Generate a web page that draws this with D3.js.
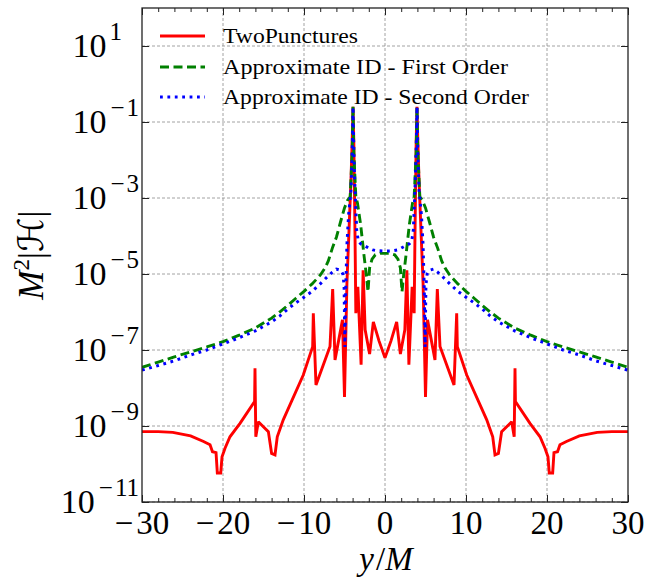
<!DOCTYPE html>
<html><head><meta charset="utf-8">
<script src="https://cdn.jsdelivr.net/npm/d3@7"></script>
<style>body{margin:0;background:#fff} svg{display:block}</style>
</head><body>
<svg id="c" width="647" height="579"></svg>
<script>
// ---------- data ----------
const xMajorTicks = [-30, -20, -10, 0, 10, 20, 30];
const xMinorTicks = [-28, -26, -24, -22, -18, -16, -14, -12, -8, -6, -4, -2, 2, 4, 6, 8, 12, 14, 16, 18, 22, 24, 26, 28];
const yTickExponents = [1, -1, -3, -5, -7, -9, -11];
const seriesNames = ["TwoPunctures", "Approximate ID - First Order", "Approximate ID - Second Order"];

// TwoPunctures (red)
const tpPos = [-30, -28, -26.2, -24, -22.4, -21.6, -21.3, -20.86, -20.7, -20.28, -20.12, -19.75, -19.14, -17.9, -16.1, -16.05, -15.95, -15.64, -14.4, -14.0, -13.58, -13.3, -12.56, -10.09, -8.93, -8.85, -8.52, -6.79, -6.46, -6.17, -5.25, -5.0, -4.7, -4.44, -4.2, -4.05, -3.95, -3.85, -3.7, -3.6, -3.35, -2.95, -2.7, -2.45, -1.9, -1.44, -0.74,
  0,
  0.74, 1.44, 1.9, 2.45, 2.7, 2.95, 3.35, 3.6, 3.7, 3.85, 3.95, 4.05, 4.2, 4.44, 4.7, 5.0, 5.25, 6.17, 6.46, 6.79, 8.52, 8.85, 8.93, 10.09, 12.56, 13.3, 13.58, 14.0, 14.4, 15.64, 15.95, 16.05, 16.1, 17.9, 19.14, 19.75, 20.12, 20.28, 20.7, 20.86, 21.3, 21.6, 22.4, 24, 26.2, 28, 30];
const tpVal = [7.1e-10, 7.1e-10, 6.8e-10, 5.5e-10, 3.9e-10, 3.2e-10, 2.1e-10, 2.0e-10, 5.8e-11, 5.8e-11, 1.55e-10, 2.6e-10, 5.2e-10, 1.17e-9, 4.4e-9, 3.3e-8, 5.2e-10, 1.29e-9, 7.1e-10, 1.9e-10, 1.74e-10, 5.2e-10, 1.45e-9, 2.2e-8, 1.23e-7, 9.3e-7, 1.2e-8, 1.23e-7, 4.0e-6, 5.5e-8, 6.2e-7, 5.8e-9, 5.8e-6, 1.45e-4, 2.95e-3, 3.2e-2, 0.25, 3.2e-2, 1.0e-4, 9.3e-7, 4.6e-6, 4.1e-8, 1.26e-5, 3.4e-7, 7.8e-8, 5.5e-7, 1.74e-7,
  6.2e-8,
  1.74e-7, 5.5e-7, 7.8e-8, 3.4e-7, 1.26e-5, 4.1e-8, 4.6e-6, 9.3e-7, 1.0e-4, 3.2e-2, 0.25, 3.2e-2, 2.95e-3, 1.45e-4, 5.8e-6, 5.8e-9, 6.2e-7, 5.5e-8, 4.0e-6, 1.23e-7, 1.2e-8, 9.3e-7, 1.23e-7, 2.2e-8, 1.45e-9, 5.2e-10, 1.74e-10, 1.9e-10, 7.1e-10, 1.29e-9, 5.2e-10, 3.3e-8, 4.4e-9, 1.17e-9, 5.2e-10, 2.6e-10, 1.55e-10, 5.8e-11, 5.8e-11, 2.0e-10, 2.1e-10, 3.2e-10, 3.9e-10, 5.5e-10, 6.8e-10, 7.1e-10, 7.1e-10];

// Approximate ID - First Order (green)
const firstPos = [-30, -28, -26, -24, -22, -20, -18, -16, -14, -13, -12, -11, -10, -9, -8, -7.4, -7, -6.5, -6, -5.5, -5, -4.6, -4.3, -4.05, -3.95, -3.85, -3.6, -3.4, -3.0, -2.6, -2.3, -2.1, -1.9, -1.6, -1.2, -0.6,
  0,
  0.6, 1.2, 1.6, 1.9, 2.1, 2.3, 2.6, 3.0, 3.4, 3.6, 3.85, 3.95, 4.05, 4.3, 4.6, 5, 5.5, 6, 6.5, 7, 7.4, 8, 9, 10, 11, 12, 13, 14, 16, 18, 20, 22, 24, 26, 28, 30];
const firstVal = [3.5e-8, 4.8e-8, 6.6e-8, 8.9e-8, 1.2e-7, 1.66e-7, 2.45e-7, 3.8e-7, 6.9e-7, 1.0e-6, 1.5e-6, 2.3e-6, 3.5e-6, 5.5e-6, 9.3e-6, 1.45e-5, 2.2e-5, 4.8e-5, 9.3e-5, 2.3e-4, 5.5e-4, 8.9e-4, 1.07e-3, 1.6e-2, 0.25, 1.6e-2, 1.07e-3, 7.4e-4, 1.95e-4, 3.2e-5, 9.3e-6, 3.4e-6, 1.45e-5, 2.45e-5, 3.2e-5, 3.5e-5,
  3.5e-5,
  3.5e-5, 3.2e-5, 2.45e-5, 1.45e-5, 3.4e-6, 9.3e-6, 3.2e-5, 1.95e-4, 7.4e-4, 1.07e-3, 1.6e-2, 0.25, 1.6e-2, 1.07e-3, 8.9e-4, 5.5e-4, 2.3e-4, 9.3e-5, 4.8e-5, 2.2e-5, 1.45e-5, 9.3e-6, 5.5e-6, 3.5e-6, 2.3e-6, 1.5e-6, 1.0e-6, 6.9e-7, 3.8e-7, 2.45e-7, 1.66e-7, 1.2e-7, 8.9e-8, 6.6e-8, 4.8e-8, 3.5e-8];

// Approximate ID - Second Order (blue)
const secondPos = [-30, -28, -26, -24, -22, -20, -18, -16, -14, -13, -12, -11, -10, -9, -8, -7.4, -7, -6.5, -6, -5.5, -5.2, -5.05, -4.95, -4.85, -4.7, -4.5, -4.2, -4.05, -3.95, -3.85, -3.7, -3.5, -3.3, -3.0, -2.5, -2.0, -1.5, -1.0,
  0,
  1.0, 1.5, 2.0, 2.5, 3.0, 3.3, 3.5, 3.7, 3.85, 3.95, 4.05, 4.2, 4.5, 4.7, 4.85, 4.95, 5.05, 5.2, 5.5, 6, 6.5, 7, 7.4, 8, 9, 10, 11, 12, 13, 14, 16, 18, 20, 22, 24, 26, 28, 30];
const secondVal = [2.95e-8, 3.9e-8, 5.2e-8, 7.4e-8, 1.0e-7, 1.45e-7, 2.1e-7, 3.2e-7, 5.5e-7, 7.8e-7, 1.2e-6, 1.74e-6, 2.45e-6, 3.5e-6, 5.5e-6, 7.4e-6, 8.9e-6, 1.12e-5, 1.35e-5, 1.26e-5, 1.0e-5, 5.1e-6, 1.2e-7, 3.8e-6, 5.8e-5, 3.5e-4, 1.62e-3, 1.6e-2, 0.25, 1.6e-2, 1.62e-3, 1.45e-4, 7.4e-5, 6.2e-5, 5.5e-5, 4.8e-5, 4.3e-5, 4.1e-5,
  4.0e-5,
  4.1e-5, 4.3e-5, 4.8e-5, 5.5e-5, 6.2e-5, 7.4e-5, 1.45e-4, 1.62e-3, 1.6e-2, 0.25, 1.6e-2, 1.62e-3, 3.5e-4, 5.8e-5, 3.8e-6, 1.2e-7, 5.1e-6, 1.0e-5, 1.26e-5, 1.35e-5, 1.12e-5, 8.9e-6, 7.4e-6, 5.5e-6, 3.5e-6, 2.45e-6, 1.74e-6, 1.2e-6, 7.8e-7, 5.5e-7, 3.2e-7, 2.1e-7, 1.45e-7, 1.0e-7, 7.4e-8, 5.2e-8, 3.9e-8, 2.95e-8];

// ---------- drawing ----------
const W = 647, H = 579;
const m = {left: 142, right: 628, top: 8, bottom: 502};
const svg = d3.select("#c");
const serif = "'Liberation Serif','DejaVu Serif',serif";

const x = d3.scaleLinear().domain([-30, 30]).range([m.left, m.right]);
const y = d3.scaleLog().domain([1e-11, 1e2]).range([m.bottom, m.top]);

svg.append("defs").append("clipPath").attr("id", "clip")
  .append("rect").attr("x", m.left).attr("y", m.top)
  .attr("width", m.right - m.left).attr("height", m.bottom - m.top);

// grid
const grid = svg.append("g").attr("stroke", "#8c8c8c").attr("stroke-width", 0.8)
  .attr("stroke-dasharray", "3,2");
xMajorTicks.slice(1, -1).forEach(t => {
  grid.append("line").attr("x1", x(t)).attr("x2", x(t)).attr("y1", m.top).attr("y2", m.bottom);
});
yTickExponents.forEach(e => {
  grid.append("line").attr("x1", m.left).attr("x2", m.right).attr("y1", y(Math.pow(10, e))).attr("y2", y(Math.pow(10, e)));
});

// series
const plot = svg.append("g").attr("clip-path", "url(#clip)");
const line = d3.line().x(d => x(d[0])).y(d => y(d[1]));
const styles = [
  {pos: tpPos, val: tpVal, color: "#ff0000", width: 2.9, dash: null},
  {pos: firstPos, val: firstVal, color: "#008000", width: 2.9, dash: "9,4.5"},
  {pos: secondPos, val: secondVal, color: "#0000ff", width: 3, dash: "2.8,4.6"}
];
styles.forEach(s => {
  plot.append("path").datum(d3.zip(s.pos, s.val))
    .attr("d", line).attr("fill", "none")
    .attr("stroke", s.color).attr("stroke-width", s.width)
    .attr("stroke-linejoin", "miter").attr("stroke-miterlimit", 2)
    .attr("stroke-dasharray", s.dash);
});

// axes ticks (inward, all four sides)
const tickStyle = g => { g.select(".domain").remove(); g.selectAll("line").attr("stroke", "#222").attr("stroke-width", 1); g.selectAll("text").remove(); };
svg.append("g").attr("transform", `translate(0,${m.bottom})`)
  .call(d3.axisBottom(x).tickValues(xMajorTicks).tickSize(-7)).call(tickStyle);
svg.append("g").attr("transform", `translate(0,${m.bottom})`)
  .call(d3.axisBottom(x).tickValues(xMinorTicks).tickSize(-4)).call(tickStyle);
svg.append("g").attr("transform", `translate(0,${m.top})`)
  .call(d3.axisTop(x).tickValues(xMajorTicks).tickSize(-7)).call(tickStyle);
svg.append("g").attr("transform", `translate(0,${m.top})`)
  .call(d3.axisTop(x).tickValues(xMinorTicks).tickSize(-4)).call(tickStyle);
const yTickVals = yTickExponents.map(e => Math.pow(10, e));
svg.append("g").attr("transform", `translate(${m.left},0)`)
  .call(d3.axisLeft(y).tickValues(yTickVals).tickSize(-7)).call(tickStyle);
svg.append("g").attr("transform", `translate(${m.right},0)`)
  .call(d3.axisRight(y).tickValues(yTickVals).tickSize(-7)).call(tickStyle);

// frame
svg.append("rect").attr("x", m.left).attr("y", m.top)
  .attr("width", m.right - m.left).attr("height", m.bottom - m.top)
  .attr("fill", "none").attr("stroke", "#222").attr("stroke-width", 1.3);

// x tick labels
xMajorTicks.forEach(t => {
  const tx = svg.append("text").attr("x", x(t)).attr("y", 534)
    .attr("text-anchor", "middle").attr("font-family", serif).attr("font-size", 33);
  if (t < 0) {
    tx.append("tspan").text("\u2212");
    tx.append("tspan").attr("dx", 3).text(String(Math.abs(t)));
  } else {
    tx.text(String(t));
  }
});

// y tick labels 10^n
yTickExponents.forEach(e => {
  const ty = y(Math.pow(10, e));
  const t = svg.append("text").attr("x", 139).attr("y", ty + 11)
    .attr("text-anchor", "end").attr("font-family", serif).attr("font-size", 34);
  t.append("tspan").text("10");
  if (e < 0) {
    t.append("tspan").attr("font-size", 25).attr("dx", 4).attr("dy", -17).text("\u2212");
    t.append("tspan").attr("font-size", 25).attr("dx", 2).text(String(Math.abs(e)));
  } else {
    t.append("tspan").attr("font-size", 25).attr("dx", 3).attr("dy", -17).text(String(e));
    t.append("tspan").attr("font-size", 25).attr("dx", 3).attr("fill-opacity", 0).text("\u2212");
  }
});

// axis labels
const xl = svg.append("text").attr("x", 386).attr("y", 570).attr("text-anchor", "middle")
  .attr("font-family", serif).attr("font-size", 33);
xl.append("tspan").attr("font-style", "italic").text("y");
xl.append("tspan").attr("dx", 2).text("/");
xl.append("tspan").attr("font-style", "italic").text("M");

const yl = svg.append("text").attr("transform", "translate(43,255) rotate(-90)")
  .attr("text-anchor", "middle").attr("font-family", serif).attr("font-size", 35);
yl.append("tspan").attr("font-style", "italic").text("M");
yl.append("tspan").attr("font-size", 23).attr("dy", -14).text("2");
yl.append("tspan").attr("dy", 14).text("|");
yl.append("tspan").attr("font-family", "'DejaVu Sans','DejaVu Serif',serif").text("\u210B");
yl.append("tspan").text("|");

// legend
const legendY = [36, 67, 97];
const legendW = [135, 285, 306];
styles.forEach((s, i) => {
  svg.append("line").attr("x1", 160).attr("x2", 205).attr("y1", legendY[i]).attr("y2", legendY[i])
    .attr("stroke", s.color).attr("stroke-width", s.width).attr("stroke-dasharray", s.dash);
  svg.append("text").attr("x", 223).attr("y", legendY[i] + 7)
    .attr("font-family", serif).attr("font-size", 21)
    .attr("textLength", legendW[i]).attr("lengthAdjust", "spacingAndGlyphs")
    .text(seriesNames[i]);
});
</script>
</body></html>
